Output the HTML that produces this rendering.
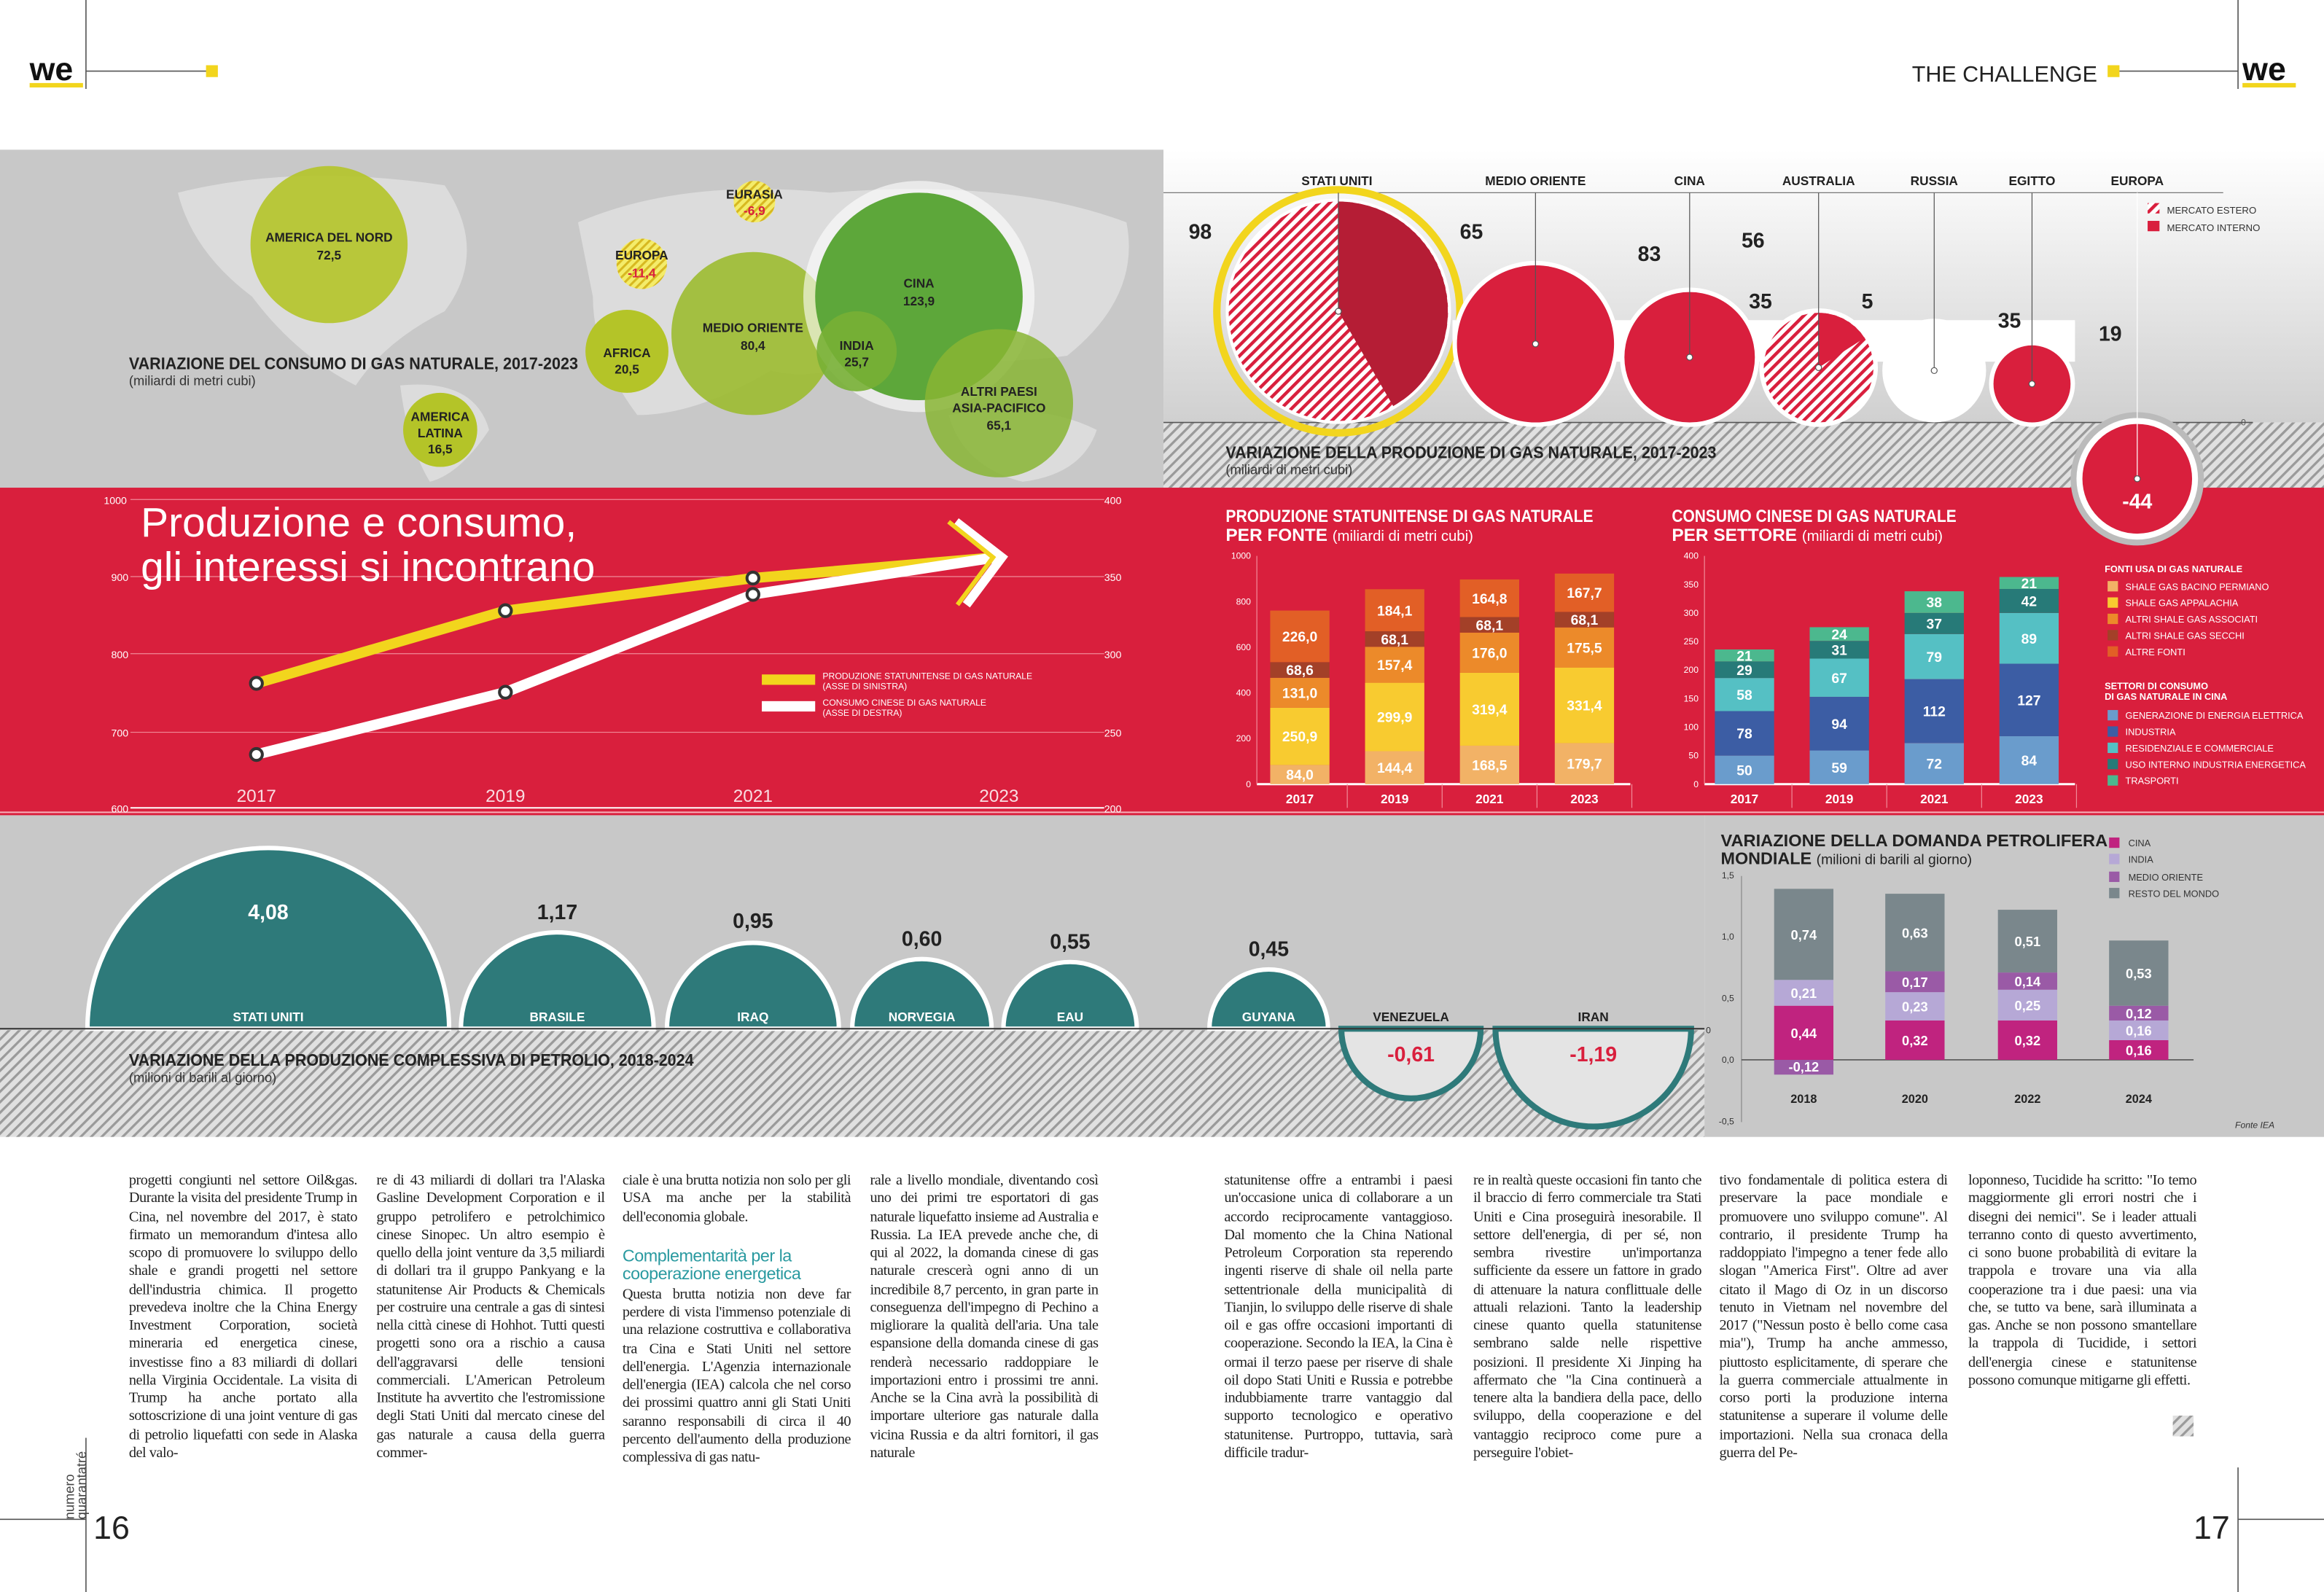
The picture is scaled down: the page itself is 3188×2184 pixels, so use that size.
<!DOCTYPE html>
<html><head><meta charset="utf-8">
<style>
html,body{margin:0;padding:0;background:#fff;}
#wrap{width:1568px;height:1074px;position:relative;transform:scale(2.03316,2.03352);transform-origin:0 0;overflow:hidden;font-family:"Liberation Sans",sans-serif;}
svg{position:absolute;left:0;top:0;}
.col{position:absolute;top:791px;width:154px;font-family:"Liberation Serif",serif;font-size:10px;line-height:12.25px;letter-spacing:-0.25px;text-align:justify;color:#222;hyphens:auto;}
.sub{font-family:"Liberation Sans",sans-serif;color:#2a9aa0;font-size:11.5px;line-height:12px;margin:2px 0 2px;text-align:left;}
</style></head><body>
<div id="wrap">
<svg id="s" width="1568" height="1074" viewBox="0 0 1568 1074" font-family="Liberation Sans, sans-serif">
<defs>
<pattern id="h" width="5" height="5" patternUnits="userSpaceOnUse" patternTransform="rotate(45)"><rect width="5" height="5" fill="#e0e0e0"/><rect width="1.6" height="5" fill="#9a9a9a"/></pattern>
<pattern id="hr" width="5" height="5" patternUnits="userSpaceOnUse" patternTransform="rotate(45)"><rect width="5" height="5" fill="#fff"/><rect width="2.2" height="5" fill="#d91f3d"/></pattern>
<pattern id="hy" width="4" height="4" patternUnits="userSpaceOnUse" patternTransform="rotate(45)"><rect width="4" height="4" fill="#f4ec6a"/><rect width="1.5" height="4" fill="#d7b820"/></pattern>
<linearGradient id="tg" x1="0" y1="0" x2="0" y2="1"><stop offset="0" stop-color="#fff"/><stop offset="1" stop-color="#d0d0d0"/></linearGradient>
</defs>
<line x1="58" y1="0" x2="58" y2="60" stroke="#555" stroke-width="0.8"/>
<line x1="1510" y1="0" x2="1510" y2="60" stroke="#555" stroke-width="0.8"/>
<text x="20" y="54" font-size="22" font-weight="bold" fill="#111">we</text>
<rect x="20" y="56" width="36" height="3" fill="#f2d51d"/>
<line x1="58" y1="48" x2="140" y2="48" stroke="#555" stroke-width="0.8"/>
<rect x="139" y="44" width="8" height="8" fill="#f2d51d"/>
<text x="1415" y="55" font-size="15" text-anchor="end" fill="#222">THE CHALLENGE</text>
<rect x="1422" y="44" width="8" height="8" fill="#f2d51d"/>
<line x1="1430" y1="48" x2="1510" y2="48" stroke="#555" stroke-width="0.8"/>
<text x="1513" y="54" font-size="22" font-weight="bold" fill="#111">we</text>
<rect x="1513" y="56" width="36" height="3" fill="#f2d51d"/>

<rect x="0" y="101" width="785" height="228" fill="#c8c8c8"/>
<g fill="#dcdcdc">
<path d="M120 130 Q200 110 300 125 Q330 170 300 210 Q260 230 240 260 Q200 240 170 200 Q130 170 120 130Z"/>
<path d="M270 260 Q320 255 330 290 Q310 320 290 325 Q275 300 270 260Z"/>
<path d="M390 150 Q460 120 560 130 Q680 120 760 150 Q770 200 720 240 Q650 250 600 230 Q560 260 520 250 Q470 280 430 280 Q400 240 400 200Z"/>
<path d="M640 280 Q700 270 740 290 Q730 320 690 325 Q650 315 640 280Z"/>
</g>
<rect x="785" y="101" width="783" height="184" fill="url(#tg)"/>
<rect x="785" y="285" width="783" height="44" fill="url(#h)"/>
<line x1="785" y1="130" x2="1500" y2="130" stroke="#777" stroke-width="0.6"/>
<line x1="785" y1="285" x2="1520" y2="285" stroke="#555" stroke-width="0.8"/>
<text x="1512" y="287" font-size="6" fill="#555">0</text>
<g font-weight="bold" text-anchor="middle" font-size="8.5" fill="#222">
<circle cx="222" cy="165" r="53" fill="#b4c428" opacity="0.9"/>
<text x="222" y="163">AMERICA DEL NORD</text><text x="222" y="175">72,5</text>
<circle cx="297" cy="290" r="25" fill="#b4c428"/>
<text x="297" y="284">AMERICA</text><text x="297" y="295">LATINA</text><text x="297" y="306">16,5</text>
<circle cx="423" cy="237" r="28" fill="#b4c428"/>
<text x="423" y="241">AFRICA</text><text x="423" y="252">20,5</text>
<circle cx="508" cy="225" r="55" fill="#9cbb30" opacity="0.9"/>
<circle cx="620" cy="200" r="78" fill="#fff" opacity="0.6"/>
<circle cx="620" cy="200" r="70" fill="#5da73a"/>
<circle cx="674" cy="272" r="50" fill="#88b534" opacity="0.85"/>
<circle cx="578" cy="237" r="27" fill="#78b035" opacity="0.9"/>
<text x="508" y="224">MEDIO ORIENTE</text><text x="508" y="236">80,4</text>
<text x="620" y="194">CINA</text><text x="620" y="206">123,9</text>
<text x="578" y="236">INDIA</text><text x="578" y="247">25,7</text>
<text x="674" y="267">ALTRI PAESI</text><text x="674" y="278">ASIA-PACIFICO</text><text x="674" y="290">65,1</text>
<circle cx="433" cy="178" r="17" fill="url(#hy)"/>
<text x="433" y="175">EUROPA</text><text x="433" y="187" fill="#d91f3d">-11,4</text>
<circle cx="509" cy="136" r="14" fill="url(#hy)"/>
<text x="509" y="134">EURASIA</text><text x="509" y="145" fill="#d91f3d">-6,9</text>
</g>
<text x="87" y="249" font-size="11.5" font-weight="bold" fill="#222" textLength="303" lengthAdjust="spacingAndGlyphs">VARIAZIONE DEL CONSUMO DI GAS NATURALE, 2017-2023</text>
<text x="87" y="260" font-size="9" fill="#333">(miliardi di metri cubi)</text>

<rect x="0" y="329" width="1568" height="221" fill="#d91f3d"/>
<line x1="0" y1="548" x2="1568" y2="548" stroke="#f6b0ba" stroke-width="1"/>

<g>
<rect x="980" y="216" width="420" height="28" fill="#fff"/>
<circle cx="903" cy="210" r="82" fill="none" stroke="#f2d51d" stroke-width="5"/>
<circle cx="903" cy="210" r="76" fill="#fff"/>
<circle cx="903" cy="210" r="74" fill="url(#hr)"/>
<path d="M903 210 L903 136 A74 74 0 0 1 940 274 Z" fill="#b51d35"/>
<circle cx="1036" cy="232" r="56" fill="#fff"/><circle cx="1036" cy="232" r="53" fill="#d91f3d"/>
<circle cx="1140" cy="241" r="47" fill="#fff"/><circle cx="1140" cy="241" r="44" fill="#d91f3d"/>
<circle cx="1227" cy="248" r="40" fill="#fff"/><circle cx="1227" cy="248" r="37" fill="url(#hr)"/>
<path d="M1227 248 L1227 211 A37 37 0 0 1 1258 228 Z" fill="#d91f3d"/>
<circle cx="1305" cy="250" r="35" fill="#fff"/>
<circle cx="1371" cy="259" r="29" fill="#fff"/><circle cx="1371" cy="259" r="26" fill="#d91f3d"/>
<circle cx="1442" cy="323" r="45" fill="#bbb"/>
<circle cx="1442" cy="323" r="41" fill="#fff"/><circle cx="1442" cy="323" r="37" fill="#d91f3d"/>
<g stroke="#555" stroke-width="0.6">
<line x1="903" y1="130" x2="903" y2="210"/><line x1="1036" y1="130" x2="1036" y2="232"/><line x1="1140" y1="130" x2="1140" y2="241"/>
<line x1="1227" y1="130" x2="1227" y2="248"/><line x1="1305" y1="130" x2="1305" y2="250"/><line x1="1371" y1="130" x2="1371" y2="259"/><line x1="1442" y1="130" x2="1442" y2="323" stroke="#fff"/>
</g>
<g fill="#fff" stroke="#555" stroke-width="0.6"><circle cx="903" cy="210" r="2"/><circle cx="1036" cy="232" r="2"/><circle cx="1140" cy="241" r="2"/><circle cx="1227" cy="248" r="2"/><circle cx="1305" cy="250" r="2"/><circle cx="1371" cy="259" r="2"/><circle cx="1442" cy="323" r="2"/></g>
<g font-size="8.5" font-weight="bold" fill="#222" text-anchor="middle">
<text x="902" y="125">STATI UNITI</text><text x="1036" y="125">MEDIO ORIENTE</text><text x="1140" y="125">CINA</text><text x="1227" y="125">AUSTRALIA</text><text x="1305" y="125">RUSSIA</text><text x="1371" y="125">EGITTO</text><text x="1442" y="125">EUROPA</text>
</g>
<g font-size="14" font-weight="bold" fill="#222">
<text x="802" y="161">98</text><text x="985" y="161">65</text><text x="1105" y="176">83</text><text x="1175" y="167">56</text><text x="1180" y="208">35</text><text x="1256" y="208">5</text><text x="1348" y="221">35</text><text x="1416" y="230">19</text>
<text x="1442" y="343" fill="#fff" text-anchor="middle">-44</text>
</g>
<rect x="1449" y="137" width="8" height="7" fill="url(#hr)"/><text x="1462" y="144" font-size="6.5" fill="#333">MERCATO ESTERO</text>
<rect x="1449" y="149" width="8" height="7" fill="#d91f3d"/><text x="1462" y="156" font-size="6.5" fill="#333">MERCATO INTERNO</text>
<text x="827" y="309" font-size="11.5" font-weight="bold" fill="#222" textLength="331" lengthAdjust="spacingAndGlyphs">VARIAZIONE DELLA PRODUZIONE DI GAS NATURALE, 2017-2023</text>
<text x="827" y="320" font-size="9" fill="#333">(miliardi di metri cubi)</text>
</g>

<g>
<g stroke="#f08a98" stroke-width="0.6">
<line x1="88" y1="337" x2="745" y2="337"/><line x1="88" y1="389" x2="745" y2="389"/><line x1="88" y1="441" x2="745" y2="441"/><line x1="88" y1="494" x2="745" y2="494"/>
</g>
<line x1="88" y1="545" x2="745" y2="545" stroke="#fff" stroke-width="1"/>
<g font-size="7" fill="#fff"><text x="70" y="340">1000</text><text x="75" y="392">900</text><text x="75" y="444">800</text><text x="75" y="497">700</text><text x="75" y="548">600</text>
<text x="745" y="340">400</text><text x="745" y="392">350</text><text x="745" y="444">300</text><text x="745" y="497">250</text><text x="745" y="548">200</text></g>
<g font-size="12" fill="#fff" text-anchor="middle" opacity="0.85"><text x="173" y="541">2017</text><text x="341" y="541">2019</text><text x="508" y="541">2021</text><text x="674" y="541">2023</text></g>
<text x="95" y="362" font-size="28" fill="#fff">Produzione e consumo,</text>
<text x="95" y="392" font-size="28" fill="#fff">gli interessi si incontrano</text>
<polyline points="173,461 341,412 508,390 672,376" fill="none" stroke="#f2d51d" stroke-width="7"/>
<polyline points="173,509 341,467 508,401 672,376" fill="none" stroke="#fff" stroke-width="7"/>
<polyline points="645,352 676,376 652,408" fill="none" stroke="#fff" stroke-width="6"/>
<polyline points="640,352 670,376 646,408" fill="none" stroke="#f2d51d" stroke-width="3"/>
<g fill="#fff" stroke="#333" stroke-width="2"><circle cx="173" cy="461" r="4"/><circle cx="341" cy="412" r="4"/><circle cx="508" cy="390" r="4"/><circle cx="173" cy="509" r="4"/><circle cx="341" cy="467" r="4"/><circle cx="508" cy="401" r="4"/></g>
<rect x="514" y="455" width="36" height="7" fill="#f2d51d"/><rect x="514" y="473" width="36" height="7" fill="#fff"/>
<g font-size="6" fill="#fff"><text x="555" y="458">PRODUZIONE STATUNITENSE DI GAS NATURALE</text><text x="555" y="465">(ASSE DI SINISTRA)</text><text x="555" y="476">CONSUMO CINESE DI GAS NATURALE</text><text x="555" y="483">(ASSE DI DESTRA)</text></g>
</g>

<g font-weight="bold" fill="#fff">
<text x="827" y="352" font-size="12" textLength="248" lengthAdjust="spacingAndGlyphs">PRODUZIONE STATUNITENSE DI GAS NATURALE</text>
<text x="827" y="365" font-size="12">PER FONTE <tspan font-weight="normal" font-size="10">(miliardi di metri cubi)</tspan></text>
<text x="1128" y="352" font-size="12" textLength="192" lengthAdjust="spacingAndGlyphs">CONSUMO CINESE DI GAS NATURALE</text>
<text x="1128" y="365" font-size="12">PER SETTORE <tspan font-weight="normal" font-size="10">(miliardi di metri cubi)</tspan></text>
</g>
<g id="bars"></g>
<g font-size="6.3" fill="#fff">
<text x="1420" y="386" font-weight="bold">FONTI USA DI GAS NATURALE</text>
<rect x="1422" y="392" width="7" height="7" fill="#f2b266"/><text x="1434" y="398">SHALE GAS BACINO PERMIANO</text>
<rect x="1422" y="403" width="7" height="7" fill="#f8cb30"/><text x="1434" y="409">SHALE GAS APPALACHIA</text>
<rect x="1422" y="414" width="7" height="7" fill="#ec8a2a"/><text x="1434" y="420">ALTRI SHALE GAS ASSOCIATI</text>
<rect x="1422" y="425" width="7" height="7" fill="#a34028"/><text x="1434" y="431">ALTRI SHALE GAS SECCHI</text>
<rect x="1422" y="436" width="7" height="7" fill="#e25f26"/><text x="1434" y="442">ALTRE FONTI</text>
<text x="1420" y="465" font-weight="bold">SETTORI DI CONSUMO</text><text x="1420" y="472" font-weight="bold">DI GAS NATURALE IN CINA</text>
<rect x="1422" y="479" width="7" height="7" fill="#6a9ccc"/><text x="1434" y="485">GENERAZIONE DI ENERGIA ELETTRICA</text>
<rect x="1422" y="490" width="7" height="7" fill="#3c5da4"/><text x="1434" y="496">INDUSTRIA</text>
<rect x="1422" y="501" width="7" height="7" fill="#55c0c4"/><text x="1434" y="507">RESIDENZIALE E COMMERCIALE</text>
<rect x="1422" y="512" width="7" height="7" fill="#277a78"/><text x="1434" y="518">USO INTERNO INDUSTRIA ENERGETICA</text>
<rect x="1422" y="523" width="7" height="7" fill="#4cb88e"/><text x="1434" y="529">TRASPORTI</text>
</g>

<rect x="0" y="550" width="1150" height="145" fill="#c8c8c8"/>
<rect x="0" y="695" width="1150" height="72" fill="url(#h)"/>
<rect x="1150" y="550" width="418" height="217" fill="#c8c8c8"/>
<g fill="#2e7a7a" stroke="#fff" stroke-width="3">
<path d="M59 694 A122 122 0 0 1 303 694Z"/>
<path d="M311 694 A65 65 0 0 1 441 694Z"/>
<path d="M450 694 A58 58 0 0 1 566 694Z"/>
<path d="M575 694 A47 47 0 0 1 669 694Z"/>
<path d="M677 694 A45 45 0 0 1 767 694Z"/>
<path d="M816 694 A40 40 0 0 1 896 694Z"/>
</g>
<path d="M905 694 A47 47 0 0 0 999 694Z" fill="#e4e4e4" stroke="#2e7a7a" stroke-width="4"/>
<path d="M1009 694 A66 66 0 0 0 1141 694Z" fill="#e4e4e4" stroke="#2e7a7a" stroke-width="4"/>
<line x1="0" y1="694" x2="1150" y2="694" stroke="#333" stroke-width="1"/>
<text x="1151" y="697" font-size="6" fill="#333">0</text>
<g font-size="8.5" font-weight="bold" fill="#fff" text-anchor="middle">
<text x="181" y="689">STATI UNITI</text><text x="376" y="689">BRASILE</text><text x="508" y="689">IRAQ</text><text x="622" y="689">NORVEGIA</text><text x="722" y="689">EAU</text><text x="856" y="689">GUYANA</text>
<text x="181" y="620" font-size="14">4,08</text>
</g>
<g font-size="8.5" font-weight="bold" fill="#222" text-anchor="middle"><text x="952" y="689">VENEZUELA</text><text x="1075" y="689">IRAN</text></g>
<g font-size="14" font-weight="bold" fill="#222" text-anchor="middle">
<text x="376" y="620">1,17</text><text x="508" y="626">0,95</text><text x="622" y="638">0,60</text><text x="722" y="640">0,55</text><text x="856" y="645">0,45</text>
<text x="952" y="716" fill="#d91f3d">-0,61</text><text x="1075" y="716" fill="#d91f3d">-1,19</text>
</g>
<text x="87" y="719" font-size="11.5" font-weight="bold" fill="#222" textLength="381" lengthAdjust="spacingAndGlyphs">VARIAZIONE DELLA PRODUZIONE COMPLESSIVA DI PETROLIO, 2018-2024</text>
<text x="87" y="730" font-size="9" fill="#333">(milioni di barili al giorno)</text>

<text x="1161" y="571" font-size="11.5" font-weight="bold" fill="#222" textLength="261" lengthAdjust="spacingAndGlyphs">VARIAZIONE DELLA DOMANDA PETROLIFERA</text>
<text x="1161" y="583" font-size="11.5" font-weight="bold" fill="#222">MONDIALE <tspan font-weight="normal" font-size="9.5">(milioni di barili al giorno)</tspan></text>
<g font-size="6.3" fill="#333">
<rect x="1423" y="565" width="7" height="7" fill="#c0237f"/><text x="1436" y="571">CINA</text>
<rect x="1423" y="576" width="7" height="7" fill="#b6a8d6"/><text x="1436" y="582">INDIA</text>
<rect x="1423" y="588" width="7" height="7" fill="#9a5aa6"/><text x="1436" y="594">MEDIO ORIENTE</text>
<rect x="1423" y="599" width="7" height="7" fill="#7a878c"/><text x="1436" y="605">RESTO DEL MONDO</text>
<text x="1508" y="761" font-style="italic" font-size="6">Fonte IEA</text>
</g>
<g id="oil"></g>

<line x1="58" y1="970" x2="58" y2="1074" stroke="#555" stroke-width="0.8"/>
<line x1="0" y1="1025" x2="58" y2="1025" stroke="#555" stroke-width="0.8"/>
<line x1="1510" y1="990" x2="1510" y2="1074" stroke="#555" stroke-width="0.8"/>
<line x1="1510" y1="1025" x2="1568" y2="1025" stroke="#555" stroke-width="0.8"/>
<text x="63" y="1038" font-size="22" fill="#222">16</text>
<text x="1480" y="1038" font-size="22" fill="#222">17</text>
<text transform="translate(50,1025) rotate(-90)" font-size="9" fill="#444">numero</text>
<text transform="translate(58,1025) rotate(-90)" font-size="9" fill="#444">quarantatré</text>
<rect x="1466" y="955" width="14" height="14" fill="url(#h)"/>
</svg>

<div class="col" style="left:87px">progetti congiunti nel settore Oil&amp;gas. Durante la visita del presidente Trump in Cina, nel novembre del 2017, è stato firmato un memorandum d'intesa allo scopo di promuovere lo sviluppo dello shale e grandi progetti nel settore dell'industria chimica. Il progetto prevedeva inoltre che la China Energy Investment Corporation, società mineraria ed energetica cinese, investisse fino a 83 miliardi di dollari nella Virginia Occidentale. La visita di Trump ha anche portato alla sottoscrizione di una joint venture di gas di petrolio liquefatti con sede in Alaska del valo-</div>
<div class="col" style="left:254px">re di 43 miliardi di dollari tra l'Alaska Gasline Development Corporation e il gruppo petrolifero e petrolchimico cinese Sinopec. Un altro esempio è quello della joint venture da 3,5 miliardi di dollari tra il gruppo Pankyang e la statunitense Air Products &amp; Chemicals per costruire una centrale a gas di sintesi nella città cinese di Hohhot. Tutti questi progetti sono ora a rischio a causa dell'aggravarsi delle tensioni commerciali. L'American Petroleum Institute ha avvertito che l'estromissione degli Stati Uniti dal mercato cinese del gas naturale a causa della guerra commer-</div>
<div class="col" style="left:420px">ciale è una brutta notizia non solo per gli USA ma anche per la stabilità dell'economia globale.<div class="sub" style="margin-top:14px">Complementarità per la cooperazione energetica</div>Questa brutta notizia non deve far perdere di vista l'immenso potenziale di una relazione costruttiva e collaborativa tra Cina e Stati Uniti nel settore dell'energia. L'Agenzia internazionale dell'energia (IEA) calcola che nel corso dei prossimi quattro anni gli Stati Uniti saranno responsabili di circa il 40 percento dell'aumento della produzione complessiva di gas natu-</div>
<div class="col" style="left:587px">rale a livello mondiale, diventando così uno dei primi tre esportatori di gas naturale liquefatto insieme ad Australia e Russia. La IEA prevede anche che, di qui al 2022, la domanda cinese di gas naturale crescerà ogni anno di un incredibile 8,7 percento, in gran parte in conseguenza dell'impegno di Pechino a migliorare la qualità dell'aria. Una tale espansione della domanda cinese di gas renderà necessario raddoppiare le importazioni entro i prossimi tre anni. Anche se la Cina avrà la possibilità di importare ulteriore gas naturale dalla vicina Russia e da altri fornitori, il gas naturale</div>
<div class="col" style="left:826px">statunitense offre a entrambi i paesi un'occasione unica di collaborare a un accordo reciprocamente vantaggioso. Dal momento che la China National Petroleum Corporation sta reperendo ingenti riserve di shale oil nella parte settentrionale della municipalità di Tianjin, lo sviluppo delle riserve di shale oil e gas offre occasioni importanti di cooperazione. Secondo la IEA, la Cina è ormai il terzo paese per riserve di shale oil dopo Stati Uniti e Russia e potrebbe indubbiamente trarre vantaggio dal supporto tecnologico e operativo statunitense. Purtroppo, tuttavia, sarà difficile tradur-</div>
<div class="col" style="left:994px">re in realtà queste occasioni fin tanto che il braccio di ferro commerciale tra Stati Uniti e Cina proseguirà inesorabile. Il settore dell'energia, di per sé, non sembra rivestire un'importanza sufficiente da essere un fattore in grado di attenuare la natura conflittuale delle attuali relazioni. Tanto la leadership cinese quanto quella statunitense sembrano salde nelle rispettive posizioni. Il presidente Xi Jinping ha affermato che "la Cina continuerà a tenere alta la bandiera della pace, dello sviluppo, della cooperazione e del vantaggio reciproco come pure a perseguire l'obiet-</div>
<div class="col" style="left:1160px">tivo fondamentale di politica estera di preservare la pace mondiale e promuovere uno sviluppo comune". Al contrario, il presidente Trump ha raddoppiato l'impegno a tener fede allo slogan "America First". Oltre ad aver citato il Mago di Oz in un discorso tenuto in Vietnam nel novembre del 2017 ("Nessun posto è bello come casa mia"), Trump ha anche ammesso, piuttosto esplicitamente, di sperare che la guerra commerciale attualmente in corso porti la produzione interna statunitense a superare il volume delle importazioni. Nella sua cronaca della guerra del Pe-</div>
<div class="col" style="left:1328px">loponneso, Tucidide ha scritto: "Io temo maggiormente gli errori nostri che i disegni dei nemici". Se i leader attuali terranno conto di questo avvertimento, ci sono buone probabilità di evitare la trappola e trovare una via alla cooperazione tra i due paesi: una via che, se tutto va bene, sarà illuminata a gas. Anche se non possono smantellare la trappola di Tucidide, i settori dell'energia cinese e statunitense possono comunque mitigarne gli effetti.</div>
</div>
<script>
var NS="http://www.w3.org/2000/svg";
function el(p,t,a,txt){var e=document.createElementNS(NS,t);for(var k in a)e.setAttribute(k,a[k]);if(txt!=null)e.textContent=txt;p.appendChild(e);return e;}
var B=document.getElementById("bars");
function chart(x0,x1,y0,ytop,max,step,xs,data,cols,years){
 var sc=(y0-ytop)/max;
 el(B,"line",{x1:x0,y1:y0,x2:x1,y2:y0,stroke:"#fff","stroke-width":1.5});
 el(B,"line",{x1:x0,y1:ytop,x2:x0,y2:y0,stroke:"#f08a98","stroke-width":0.6});
 for(var v=0;v<=max;v+=step){var y=y0-v*sc;el(B,"text",{x:x0-4,y:y+2,"font-size":6,fill:"#fff","text-anchor":"end"},String(v));}
 for(var i=0;i<xs.length;i++){var y=y0;
  for(var j=0;j<data[i].length;j++){var h=data[i][j]*sc;y-=h;
   el(B,"rect",{x:xs[i],y:y,width:40,height:h,fill:cols[j]});
   el(B,"text",{x:xs[i]+20,y:y+h/2+3.5,"font-size":9.5,"font-weight":"bold",fill:"#fff","text-anchor":"middle"},(max>500)?data[i][j].toFixed(1).replace(".",","):String(data[i][j]));}
  el(B,"text",{x:xs[i]+20,y:y0+13,"font-size":8.5,"font-weight":"bold",fill:"#fff","text-anchor":"middle"},years[i]);
  el(B,"line",{x1:xs[i]+52,y1:y0,x2:xs[i]+52,y2:y0+16,stroke:"#f08a98","stroke-width":0.6});}
}
var yrs=["2017","2019","2021","2023"];
chart(848,1100,529,375,1000,200,[857,921,985,1049],[[84,250.9,131,68.6,226],[144.4,299.9,157.4,68.1,184.1],[168.5,319.4,176,68.1,164.8],[179.7,331.4,175.5,68.1,167.7]],["#f2b266","#f8cb30","#ec8a2a","#a34028","#e25f26"],yrs);
chart(1150,1400,529,375,400,50,[1157,1221,1285,1349],[[50,78,58,29,21],[59,94,67,31,24],[72,112,79,37,38],[84,127,89,42,21]],["#6a9ccc","#3c5da4","#55c0c4","#277a78","#4cb88e"],yrs);
var O=document.getElementById("oil"),y0=715,sc=83;
el(O,"line",{x1:1175,y1:591,x2:1175,y2:757,stroke:"#888","stroke-width":0.6});
[[1.5,"1,5"],[1,"1,0"],[0.5,"0,5"],[0,"0,0"],[-0.5,"-0,5"]].forEach(function(t){el(O,"text",{x:1170,y:y0-t[0]*sc+2,"font-size":6,fill:"#333","text-anchor":"end"},t[1]);});
el(O,"line",{x1:1175,y1:y0,x2:1480,y2:y0,stroke:"#555","stroke-width":0.8});
var ox=[1197,1272,1348,1423],oy=["2018","2020","2022","2024"];
var od=[[[0.44,"#c0237f"],[0.21,"#b6a8d6"],[0.74,"#7a878c"]],[[0.32,"#c0237f"],[0.23,"#b6a8d6"],[0.17,"#9a5aa6"],[0.63,"#7a878c"]],[[0.32,"#c0237f"],[0.25,"#b6a8d6"],[0.14,"#9a5aa6"],[0.51,"#7a878c"]],[[0.16,"#c0237f"],[0.16,"#b6a8d6"],[0.12,"#9a5aa6"],[0.53,"#7a878c"]]];
for(var i=0;i<4;i++){var y=y0;od[i].forEach(function(s){var h=s[0]*sc;y-=h;el(O,"rect",{x:ox[i],y:y,width:40,height:h,fill:s[1]});el(O,"text",{x:ox[i]+20,y:y+h/2+3.5,"font-size":9,"font-weight":"bold",fill:"#fff","text-anchor":"middle"},s[0].toFixed(2).replace(".",","));});
 el(O,"text",{x:ox[i]+20,y:744,"font-size":8,"font-weight":"bold",fill:"#222","text-anchor":"middle"},oy[i]);}
el(O,"rect",{x:1197,y:y0,width:40,height:0.12*sc,fill:"#9a5aa6"});
el(O,"text",{x:1217,y:y0+8,"font-size":9,"font-weight":"bold",fill:"#fff","text-anchor":"middle"},"-0,12");
</script>
</body></html>
